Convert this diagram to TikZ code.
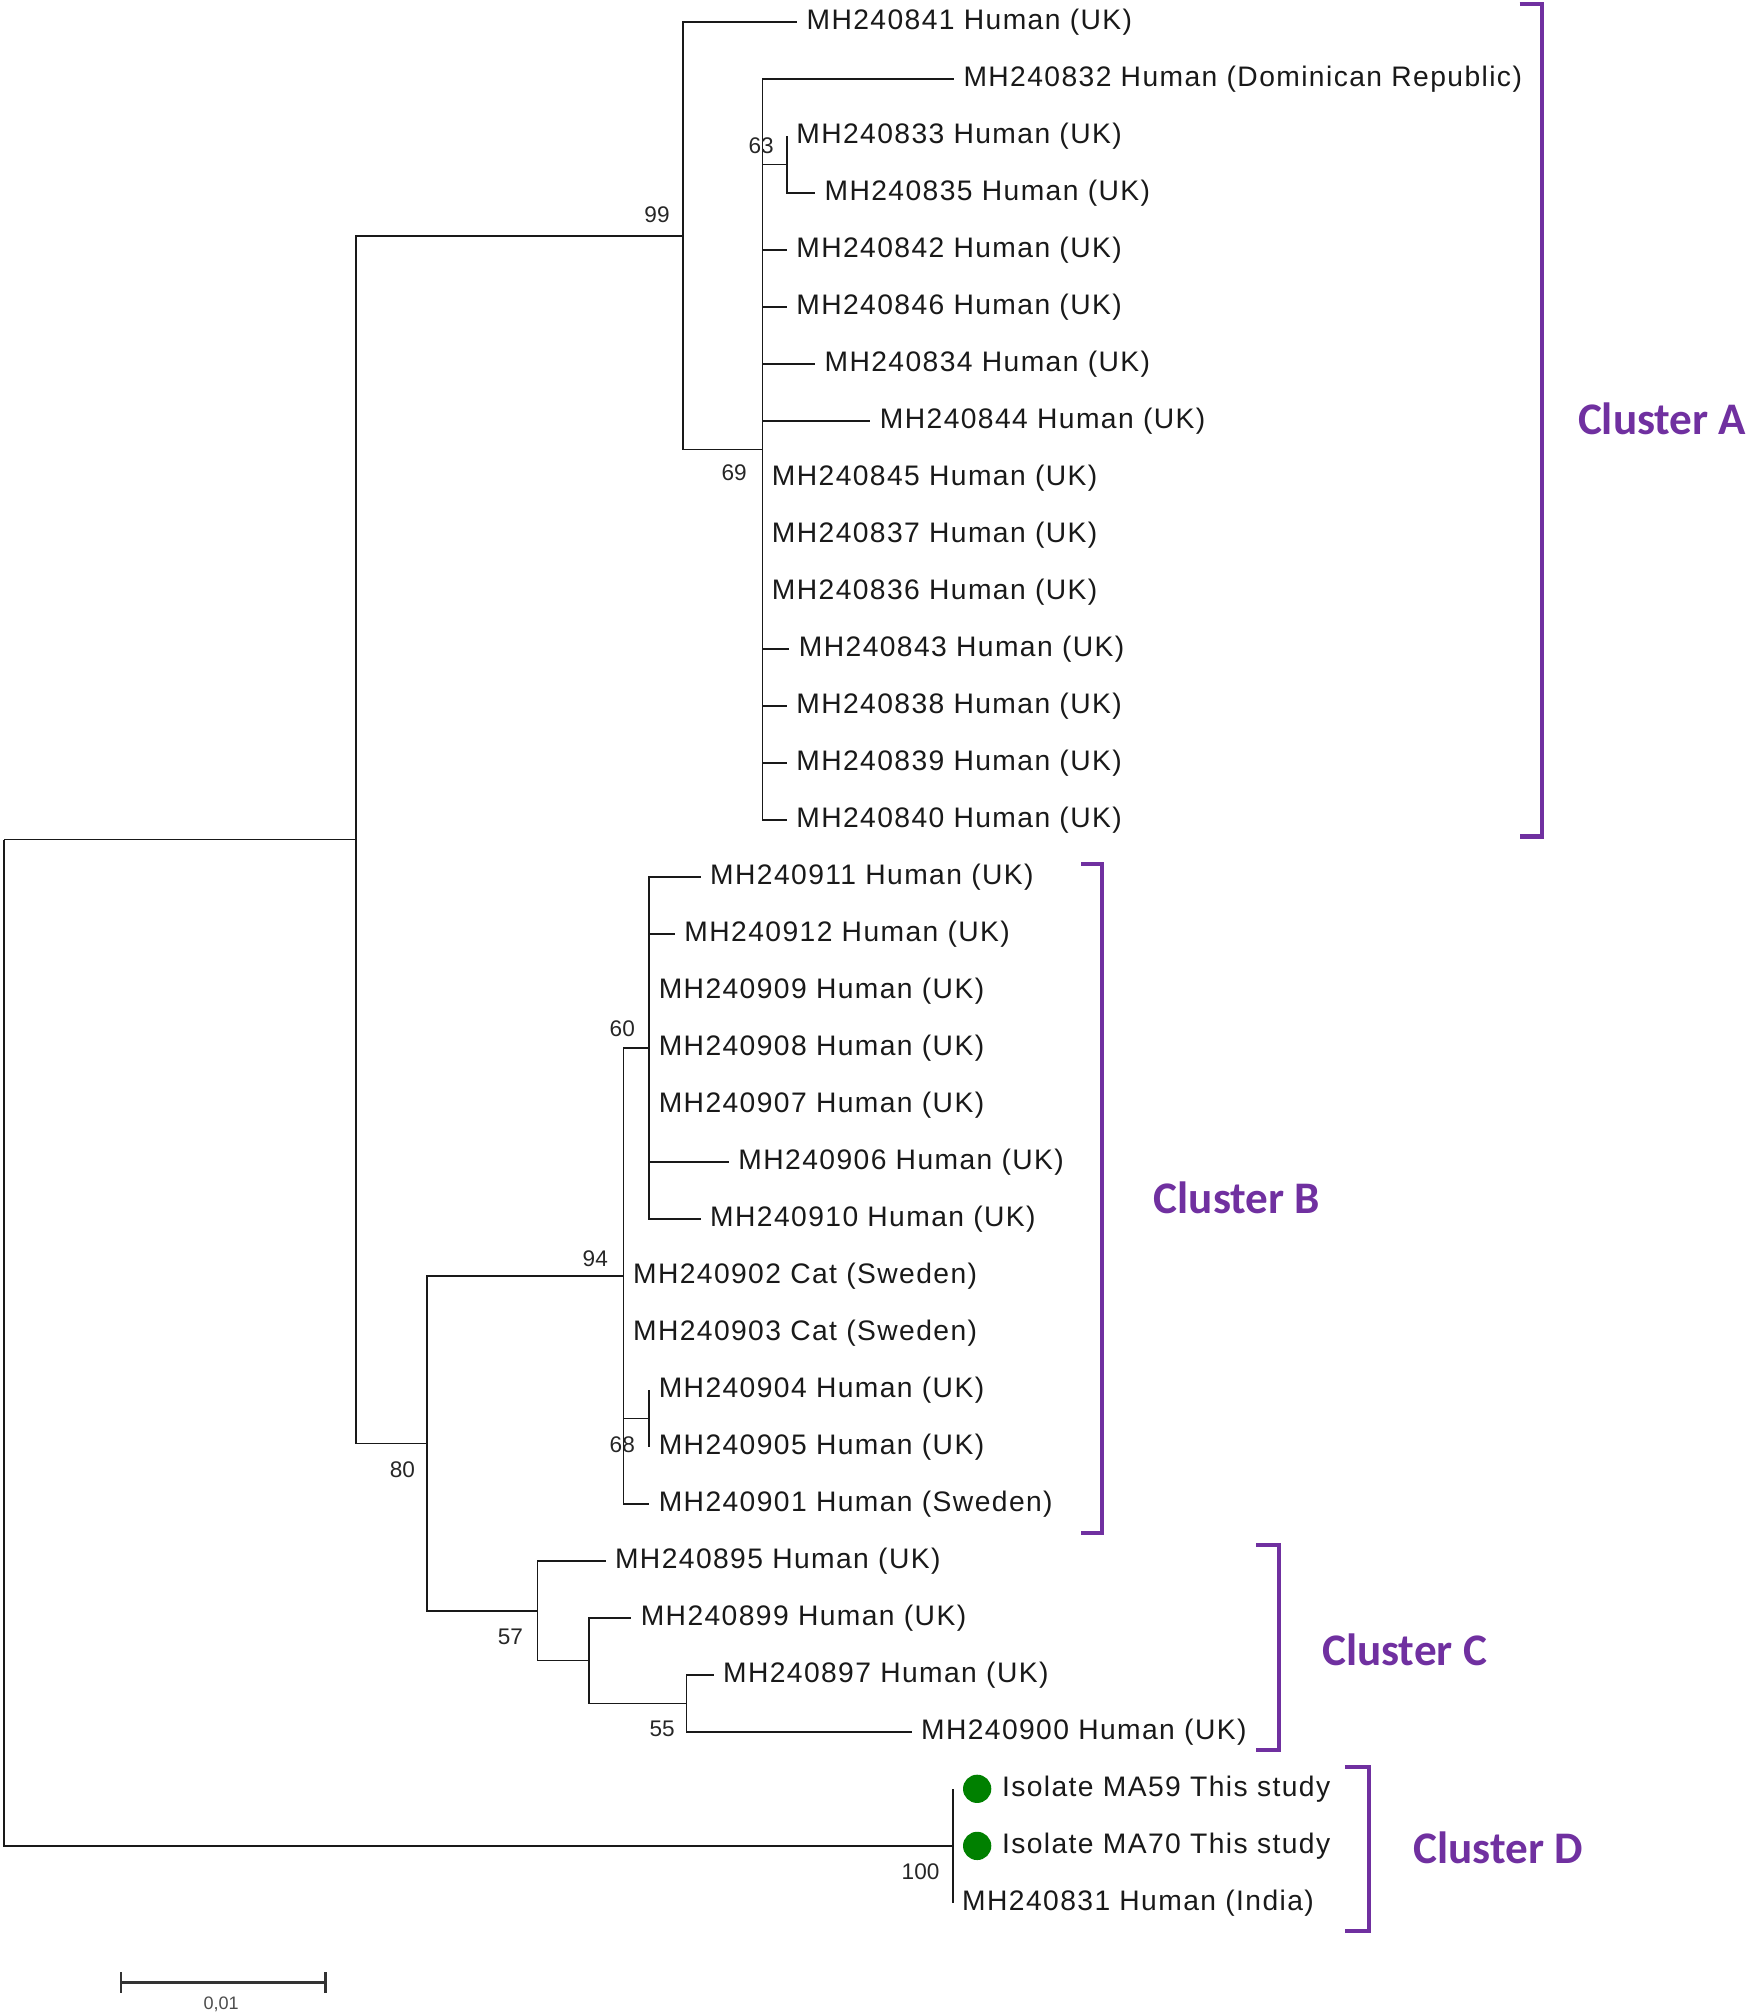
\documentclass[tikz,border=0pt]{standalone}
\usepackage{fontspec}
\setmainfont{Liberation Sans}
\newfontfamily\taxonfont{Liberation Sans}[LetterSpace=5]
\newfontfamily\cladefont{Carlito}
\definecolor{cladepurple}{RGB}{112,48,160}
\definecolor{isolategreen}{RGB}{0,128,0}

\tikzset{
  branch/.style={line width=0.75pt,black!90},
  taxon/.style={anchor=west,inner xsep=4pt,inner ysep=0pt,text=black!90,
    font=\taxonfont\fontsize{12.5}{14}\selectfont},
  boot/.style={inner sep=0pt,text=black!85,font=\fontsize{10}{12}\selectfont},
  cladebar/.style={line width=1.8pt,cladepurple},
  cladename/.style={anchor=west,inner sep=0pt,text=cladepurple,
    font=\cladefont\bfseries\fontsize{20}{24}\selectfont},
  isodot/.style={circle,fill=isolategreen,minimum size=0.44cm,inner sep=0pt}
}

\begin{document}
\begin{tikzpicture}[x=0.02cm,y=-0.02cm]
\useasboundingbox (0,0) rectangle (1361,1568);

% internal nodes
\coordinate (root) at (3,653.0);
\coordinate (bTop) at (277,653.0);
\coordinate (b99) at (531,183.3);
\coordinate (b69) at (593,349.6);
\coordinate (b63) at (612,128.0);
\coordinate (b80) at (332,1122.6);
\coordinate (b94) at (485,992.4);
\coordinate (b60) at (505,815.0);
\coordinate (b68) at (505,1103.2);
\coordinate (b57) at (418,1252.8);
\coordinate (bC2) at (458,1291.6);
\coordinate (b55) at (534,1324.9);
\coordinate (b100) at (741,1435.7);

% cluster A
\node[taxon] (l841) at (620,17.1) {MH240841 Human (UK)};
\node[taxon] (l832) at (742,61.4) {MH240832 Human (Dominican Republic)};
\node[taxon] (l833) at (612,105.8) {MH240833 Human (UK)};
\node[taxon] (l835) at (634,150.1) {MH240835 Human (UK)};
\node[taxon] (l842) at (612,194.4) {MH240842 Human (UK)};
\node[taxon] (l846) at (612,238.8) {MH240846 Human (UK)};
\node[taxon] (l834) at (634,283.1) {MH240834 Human (UK)};
\node[taxon] (l844) at (677,327.4) {MH240844 Human (UK)};
\node[taxon] (l845) at (593,371.7) {MH240845 Human (UK)};
\node[taxon] (l837) at (593,416.1) {MH240837 Human (UK)};
\node[taxon] (l836) at (593,460.4) {MH240836 Human (UK)};
\node[taxon] (l843) at (614,504.7) {MH240843 Human (UK)};
\node[taxon] (l838) at (612,549.1) {MH240838 Human (UK)};
\node[taxon] (l839) at (612,593.4) {MH240839 Human (UK)};
\node[taxon] (l840) at (612,637.7) {MH240840 Human (UK)};

% cluster B
\node[taxon] (l911) at (545,682.1) {MH240911 Human (UK)};
\node[taxon] (l912) at (525,726.4) {MH240912 Human (UK)};
\node[taxon] (l909) at (505,770.7) {MH240909 Human (UK)};
\node[taxon] (l908) at (505,815.0) {MH240908 Human (UK)};
\node[taxon] (l907) at (505,859.4) {MH240907 Human (UK)};
\node[taxon] (l906) at (567,903.7) {MH240906 Human (UK)};
\node[taxon] (l910) at (545,948.0) {MH240910 Human (UK)};
\node[taxon] (l902) at (485,992.4) {MH240902 Cat (Sweden)};
\node[taxon] (l903) at (485,1036.7) {MH240903 Cat (Sweden)};
\node[taxon] (l904) at (505,1081.0) {MH240904 Human (UK)};
\node[taxon] (l905) at (505,1125.4) {MH240905 Human (UK)};
\node[taxon] (l901) at (505,1169.7) {MH240901 Human (Sweden)};

% cluster C
\node[taxon] (l895) at (471,1214.0) {MH240895 Human (UK)};
\node[taxon] (l899) at (491,1258.3) {MH240899 Human (UK)};
\node[taxon] (l897) at (555,1302.7) {MH240897 Human (UK)};
\node[taxon] (l900) at (709,1347.0) {MH240900 Human (UK)};

% cluster D
\coordinate (t59) at (741,1391.3);
\coordinate (t70) at (741,1435.7);
\node[isodot] (d59) at (760,1391.3) {};
\node[isodot] (d70) at (760,1435.7) {};
\node[taxon,inner xsep=0pt] (l59) at (779,1391.3) {Isolate MA59 This study};
\node[taxon,inner xsep=0pt] (l70) at (779,1435.7) {Isolate MA70 This study};
\node[taxon] (l831) at (741,1480.0) {MH240831 Human (India)};

% branches
\draw[branch] (root) |- (bTop);
\draw[branch] (root) |- (b100);
\draw[branch] (bTop) |- (b99);
\draw[branch] (bTop) |- (b80);
\draw[branch] (b99) |- (l841.west);
\draw[branch] (b99) |- (b69);
\draw[branch] (b69) |- (l832.west);
\draw[branch] (b69) |- (b63);
\draw[branch] (b63) |- (l833.west);
\draw[branch] (b63) |- (l835.west);
\draw[branch] (b69) |- (l842.west);
\draw[branch] (b69) |- (l846.west);
\draw[branch] (b69) |- (l834.west);
\draw[branch] (b69) |- (l844.west);
\draw[branch] (b69) |- (l843.west);
\draw[branch] (b69) |- (l838.west);
\draw[branch] (b69) |- (l839.west);
\draw[branch] (b69) |- (l840.west);
\draw[branch] (b80) |- (b94);
\draw[branch] (b80) |- (b57);
\draw[branch] (b94) |- (b60);
\draw[branch] (b60) |- (l911.west);
\draw[branch] (b60) |- (l912.west);
\draw[branch] (b60) |- (l906.west);
\draw[branch] (b60) |- (l910.west);
\draw[branch] (b94) |- (b68);
\draw[branch] (b68) |- (l904.west);
\draw[branch] (b68) |- (l905.west);
\draw[branch] (b94) |- (l901.west);
\draw[branch] (b57) |- (l895.west);
\draw[branch] (b57) |- (bC2);
\draw[branch] (bC2) |- (l899.west);
\draw[branch] (bC2) |- (b55);
\draw[branch] (b55) |- (l897.west);
\draw[branch] (b55) |- (l900.west);
\draw[branch] (b100) |- (t59);
\draw[branch] (b100) |- (l831.west);

% bootstrap values
\node[boot] (s99) at (511,167) {99};
\node[boot] (s69) at (571,368) {69};
\node[boot] (s63) at (592,113) {63};
\node[boot] (s80) at (313,1143) {80};
\node[boot] (s94) at (463,979) {94};
\node[boot] (s60) at (484,800) {60};
\node[boot] (s68) at (484,1124) {68};
\node[boot] (s57) at (397,1273) {57};
\node[boot] (s55) at (515,1345) {55};
\node[boot] (s100) at (716,1456) {100};

% clusters
\draw[cladebar] (1182,3.4) -- (1199,3.4) -- (1199,650.6) -- (1182,650.6);
\node[cladename] (cA) at (1227,326) {Cluster A};
\draw[cladebar] (841,672) -- (857,672) -- (857,1192) -- (841,1192);
\node[cladename] (cB) at (897,932) {Cluster B};
\draw[cladebar] (977,1202) -- (995,1202) -- (995,1361) -- (977,1361);
\node[cladename] (cC) at (1028,1283) {Cluster C};
\draw[cladebar] (1046,1374) -- (1065,1374) -- (1065,1502) -- (1046,1502);
\node[cladename] (cD) at (1099,1437) {Cluster D};

% scale bar
\draw[line width=1.2pt,black!80] (94,1542) -- (253,1542);
\draw[line width=1.2pt,black!80] (94,1534) -- (94,1550);
\draw[line width=1.2pt,black!80] (253,1534) -- (253,1550);
\node[inner sep=0pt,text=black!70,font=\fontsize{8}{10}\selectfont] (sc) at (172,1559) {0,01};
\end{tikzpicture}
\end{document}
